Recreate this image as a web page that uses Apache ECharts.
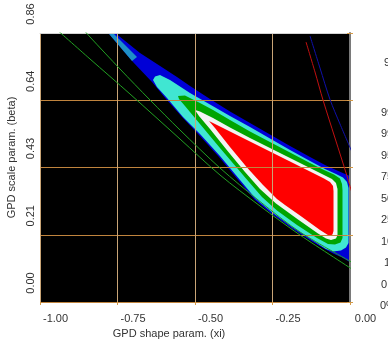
<!DOCTYPE html>
<html><head><meta charset="utf-8">
<script src="https://cdn.jsdelivr.net/npm/echarts@6/dist/echarts.min.js"></script>
<style>html,body{margin:0;padding:0;background:#fff}#c{width:388px;height:341px}</style>
</head><body><div id="c"></div>
<script>
// ---- data (xi, beta) ----
const xTickLabels = ['-1.00', '-0.75', '-0.50', '-0.25', '0.00'];
const yTickLabels = ['0.00', '0.21', '0.43', '0.64', '0.86'];
const keyLabels = ['95% region', '99.9%', '99%', '95%', '75%', '50%', '25%', '10%', '1%', '0.1%', '0%'];

const blueRegion = [
  [-0.7935,0.8760],[-0.7774,0.8760],[-0.6774,0.7961],[-0.6226,0.7609],[-0.5581,0.7193],
  [-0.5161,0.6906],[-0.4516,0.6490],[-0.3871,0.6090],[-0.3226,0.5723],[-0.2581,0.5355],
  [-0.1935,0.4987],[-0.1290,0.4636],[-0.0806,0.4380],[-0.0452,0.4220],[-0.0194,0.4108],
  [0.0000,0.4028],[0.0161,0.3964],[0.0161,0.1183],[-0.0065,0.1311],[-0.0290,0.1439],
  [-0.0548,0.1551],[-0.0839,0.1710],[-0.1226,0.1934],[-0.1871,0.2350],[-0.2516,0.2813],
  [-0.3065,0.3261],[-0.3581,0.3868],[-0.4226,0.4636],[-0.4871,0.5339],[-0.5419,0.5915],
  [-0.5935,0.6490],[-0.6387,0.7034],[-0.7000,0.7673]
];
const tealRegion = [[-0.7935,0.8760],[-0.7806,0.8760],[-0.6871,0.7833],[-0.7032,0.7705]];
const turquoiseRegion = [
  [-0.6355,0.7097],[-0.6290,0.7209],[-0.6129,0.7257],[-0.5806,0.7097],[-0.5161,0.6682],
  [-0.4516,0.6314],[-0.3871,0.5946],[-0.3226,0.5595],[-0.2581,0.5227],[-0.1935,0.4859],
  [-0.1290,0.4508],[-0.0806,0.4252],[-0.0452,0.4092],[-0.0226,0.3980],[-0.0097,0.3836],
  [-0.0048,0.3645],[-0.0048,0.1886],[-0.0129,0.1742],[-0.0290,0.1646],[-0.0548,0.1614],
  [-0.0774,0.1694],[-0.1194,0.1966],[-0.1839,0.2382],[-0.2484,0.2845],[-0.3032,0.3293],
  [-0.3548,0.3900],[-0.4194,0.4668],[-0.4839,0.5371],[-0.5387,0.5915],[-0.5903,0.6522],
  [-0.6226,0.6874]
];
const greenRegion = [
  [-0.5548,0.6586],[-0.5323,0.6602],[-0.4839,0.6362],[-0.4419,0.6138],[-0.3871,0.5819],
  [-0.3226,0.5451],[-0.2581,0.5115],[-0.1935,0.4780],[-0.1290,0.4444],[-0.0839,0.4220],
  [-0.0516,0.4076],[-0.0323,0.3948],[-0.0258,0.3772],[-0.0242,0.3581],[-0.0242,0.2046],
  [-0.0306,0.1902],[-0.0484,0.1838],[-0.0710,0.1854],[-0.1065,0.2046],[-0.1710,0.2462],
  [-0.2355,0.2925],[-0.2839,0.3357],[-0.3355,0.3948],[-0.4194,0.4923],[-0.4839,0.5691],
  [-0.5323,0.6266],[-0.5516,0.6490]
];
const whiteRegion = [
  [-0.5000,0.6138],[-0.4839,0.6090],[-0.4419,0.5883],[-0.3871,0.5579],[-0.3226,0.5243],
  [-0.2581,0.4923],[-0.1935,0.4604],[-0.1290,0.4284],[-0.0839,0.4060],[-0.0581,0.3932],
  [-0.0452,0.3804],[-0.0403,0.3613],[-0.0403,0.2142],[-0.0452,0.2030],[-0.0613,0.1982],
  [-0.0774,0.2030],[-0.1032,0.2190],[-0.1677,0.2638],[-0.2387,0.3149],[-0.2903,0.3613],
  [-0.3387,0.4156],[-0.3935,0.4812],[-0.4516,0.5531],[-0.4871,0.5946]
];
const redRegion = [
  [-0.4548,0.5787],[-0.3871,0.5451],[-0.3226,0.5131],[-0.2581,0.4812],[-0.1935,0.4492],
  [-0.1290,0.4172],[-0.0839,0.3948],[-0.0645,0.3836],[-0.0548,0.3709],[-0.0532,0.3549],
  [-0.0532,0.2270],[-0.0565,0.2158],[-0.0661,0.2110],[-0.0968,0.2302],[-0.1613,0.2765],
  [-0.2097,0.3101],[-0.2355,0.3293],[-0.2806,0.3741],[-0.3323,0.4300],[-0.3871,0.4955],
  [-0.4355,0.5563]
];

const greenLineA = [[-0.9516,0.8760],[-0.8387,0.7769],[-0.7097,0.6650],[-0.5484,0.5211],[-0.4194,0.4060],[-0.2903,0.3069],[-0.1613,0.2142],[0.0161,0.0991]];
const greenLineB = [[-0.8645,0.8760],[-0.8387,0.8472],[-0.7419,0.7449],[-0.6452,0.6458],[-0.5484,0.5499],[-0.4194,0.4284],[-0.2903,0.3213],[-0.1613,0.2238],[0.0161,0.1215]];
const redLine = [[-0.1419,0.8312],[-0.1129,0.7353],[-0.0871,0.6458],[-0.0484,0.5243],[-0.0097,0.4028],[0.0065,0.3485]];
const blueLine = [[-0.1290,0.8504],[-0.0968,0.7481],[-0.0645,0.6474],[-0.0323,0.5691],[0.0065,0.4796]];

// ---- styling ----
const layers = [
  { pts: blueRegion, color: '#0000d6' },
  { pts: tealRegion, color: '#1e8fc6' },
  { pts: turquoiseRegion, color: '#40e6d2' },
  { pts: greenRegion, color: '#00a400' },
  { pts: whiteRegion, color: '#f3f3f3' },
  { pts: redRegion, color: '#ff0000' }
];
const FONT = '"Liberation Sans", Arial, sans-serif';
const TXT = '#333';
const TICK = '#d49a48';
const yStep = 0.215;

const keyTops = [57, 107, 128.5, 150, 171.5, 193, 214.5, 236, 257.5, 279, 300.5];
const keyLefts = [384, 381, 381, 381, 381, 381, 381, 381, 384, 381, 380];

const chart = echarts.init(document.getElementById('c'));
const lineSeries = (data, color) => ({
  type: 'line', data, showSymbol: false, symbol: 'none', smooth: 0.3, z: 5, silent: true,
  lineStyle: { color, width: 1 }, clip: true
});

chart.setOption({
  animation: false,
  backgroundColor: '#fff',
  grid: { left: 40, right: 38, top: 33, bottom: 39, show: true, backgroundColor: '#000', borderWidth: 0, containLabel: false, outerBoundsMode: 'none' },
  xAxis: [{
    type: 'value', position: 'bottom', min: -1, max: 0, interval: 0.25, z: 3,
    axisLine: { show: false },
    axisTick: { show: true, length: 3, lineStyle: { color: TICK } },
    splitLine: { show: true, lineStyle: { color: '#c9a577', width: 1 } },
    axisLabel: { margin: 11, color: TXT, fontSize: 11, fontFamily: FONT, padding: [0, 0, 0, 31], showMinLabel: true, showMaxLabel: true,
      formatter: v => xTickLabels[Math.round((v + 1) / 0.25)] },
    name: 'GPD shape param. (xi)', nameLocation: 'middle', nameGap: 23,
    nameTextStyle: { color: TXT, fontSize: 11, fontFamily: FONT, padding: [0, 52, 0, 0] }
  }, {
    type: 'value', position: 'top', min: -1, max: 0, interval: 0.25, z: 3,
    axisLine: { show: true, onZero: false, lineStyle: { color: '#d4d4d4', width: 1 } },
    axisTick: { show: false }, axisLabel: { show: false }, splitLine: { show: false }
  }],
  yAxis: [{
    type: 'value', position: 'left', min: 0, max: 0.86, interval: yStep, z: 3,
    axisLine: { show: false },
    axisTick: { show: true, length: 3, lineStyle: { color: TICK } },
    splitLine: { show: true, lineStyle: { color: '#c0843e', width: 1 } },
    axisLabel: { rotate: 90, margin: 4, color: TXT, fontSize: 11, fontFamily: FONT, padding: [0, 0, 0, 38], showMinLabel: true, showMaxLabel: true,
      formatter: v => yTickLabels[Math.round(v / yStep)] },
    name: 'GPD scale param. (beta)', nameLocation: 'middle', nameGap: 18,
    nameTextStyle: { color: TXT, fontSize: 11, fontFamily: FONT, padding: [0, 0, 0, 20] }
  }, {
    type: 'value', position: 'right', min: 0, max: 0.86, interval: yStep, z: 3,
    axisLine: { show: true, onZero: false, lineStyle: { color: '#7a7a7a', width: 2 } },
    axisTick: { show: true, length: 3, lineStyle: { color: TICK } },
    axisLabel: { show: false }, splitLine: { show: false }
  }],
  graphic: keyLabels.map((t, i) => ({
    type: 'text', left: keyLefts[i], top: keyTops[i], silent: true,
    style: { text: t, fill: TXT, font: '11px ' + FONT }
  })),
  series: [{
    type: 'custom', clip: true, silent: true, z: 2,
    data: layers.map((l, i) => [i]),
    renderItem: (params, api) => {
      const l = layers[params.dataIndex];
      return { type: 'polygon', shape: { points: l.pts.map(p => api.coord(p)) }, style: { fill: l.color } };
    }
  },
  lineSeries(greenLineA, '#22a022'),
  lineSeries(greenLineB, '#22a022'),
  lineSeries(redLine, '#c01010'),
  lineSeries(blueLine, '#1010a8')
  ]
});
</script></body></html>
